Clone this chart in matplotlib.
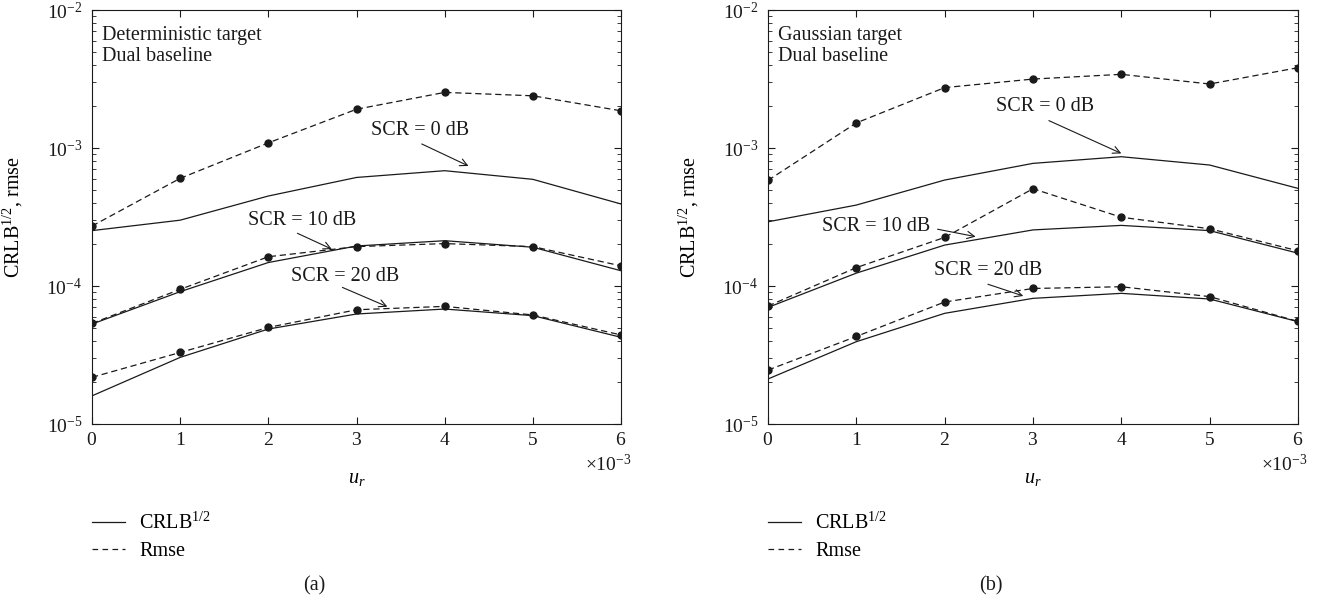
import matplotlib
matplotlib.use("Agg")
import matplotlib.pyplot as plt
from matplotlib.ticker import ScalarFormatter, LogLocator, NullFormatter
from matplotlib.lines import Line2D

plt.rcParams['font.family'] = ['Liberation Serif', 'DejaVu Serif']
plt.rcParams['mathtext.fontset'] = 'custom'
plt.rcParams['mathtext.rm'] = 'Liberation Serif'
plt.rcParams['mathtext.it'] = 'Liberation Serif:italic'

# u_r values
ur = [0, 1e-3, 2e-3, 3e-3, 4e-3, 5e-3, 6e-3]

# (a) deterministic target
det_crlb_0 = [2.52e-4, 3.0e-4, 4.49e-4, 6.12e-4, 6.85e-4, 5.93e-4, 3.93e-4]
det_rmse_0 = [2.72e-4, 6.03e-4, 1.09e-3, 1.91e-3, 2.53e-3, 2.39e-3, 1.86e-3]
det_crlb_10 = [5.3e-5, 9.1e-5, 1.48e-4, 1.95e-4, 2.13e-4, 1.91e-4, 1.29e-4]
det_rmse_10 = [5.36e-5, 9.46e-5, 1.63e-4, 1.93e-4, 2.03e-4, 1.93e-4, 1.40e-4]
det_crlb_20 = [1.60e-5, 3.04e-5, 4.88e-5, 6.27e-5, 6.81e-5, 6.1e-5, 4.25e-5]
det_rmse_20 = [2.18e-5, 3.30e-5, 5.01e-5, 6.73e-5, 7.12e-5, 6.17e-5, 4.42e-5]

# (b) gaussian target
gau_crlb_0 = [2.92e-4, 3.86e-4, 5.86e-4, 7.74e-4, 8.65e-4, 7.53e-4, 5.10e-4]
gau_rmse_0 = [5.83e-4, 1.52e-3, 2.74e-3, 3.16e-3, 3.42e-3, 2.91e-3, 3.82e-3]
gau_crlb_10 = [7.0e-5, 1.24e-4, 1.98e-4, 2.55e-4, 2.75e-4, 2.52e-4, 1.73e-4]
gau_rmse_10 = [7.16e-5, 1.36e-4, 2.25e-4, 5.07e-4, 3.15e-4, 2.60e-4, 1.80e-4]
gau_crlb_20 = [2.12e-5, 3.95e-5, 6.34e-5, 8.14e-5, 8.85e-5, 8.05e-5, 5.52e-5]
gau_rmse_20 = [2.46e-5, 4.31e-5, 7.66e-5, 9.6e-5, 9.88e-5, 8.38e-5, 5.54e-5]

scr_labels = ['SCR = 0 dB', 'SCR = 10 dB', 'SCR = 20 dB']

# annotation placements: (text pos, arrow start, arrow end)
det_notes = [
    ((3.72e-3, 1.35e-3), (3.74e-3, 1.07e-3), (4.27e-3, 7.41e-4)),
    ((2.38e-3, 2.96e-4), (2.33e-3, 2.41e-4), (2.72e-3, 1.85e-4)),
    ((2.87e-3, 1.18e-4), (2.84e-3, 9.77e-5), (3.35e-3, 7.08e-5)),
]
gau_notes = [
    ((3.14e-3, 2.01e-3), (3.18e-3, 1.58e-3), (4.0e-3, 9.14e-4)),
    ((1.22e-3, 2.72e-4), (1.92e-3, 2.58e-4), (2.35e-3, 2.28e-4)),
    ((2.49e-3, 1.29e-4), (2.49e-3, 1.03e-4), (2.89e-3, 8.47e-5)),
]

ink = '#1a1a1a'
fs_tick = 14
fs_text = 14.5

fig = plt.figure(figsize=(13.18, 6), dpi=100)
ax_a = fig.add_axes([0.0698, 0.2933, 0.4014, 0.69])
ax_b = fig.add_axes([0.5827, 0.2933, 0.4021, 0.69])


def draw_panel(ax, crlbs, rmses, notes, title, tag):
    for c in crlbs:
        ax.plot(ur, c, '-', color=ink, lw=0.9)
    for r in rmses:
        ax.plot(ur, r, '--', color=ink, lw=0.9, dashes=(5, 3),
                marker='o', ms=5, mfc=ink, mec=ink)
    for lab, (txt, a0, a1) in zip(scr_labels, notes):
        ax.text(txt[0], txt[1], lab, ha='center', va='center',
                fontsize=fs_text, color=ink)
        ax.annotate('', xy=a1, xytext=a0,
                    arrowprops=dict(arrowstyle='->', color=ink, lw=0.8,
                                    shrinkA=0, shrinkB=0, mutation_scale=13))
    ax.set_yscale('log')
    ax.set_ylim(1e-5, 1e-2)
    ax.set_xlim(0, 6e-3)
    ax.set_xticks(ur)
    fmt = ScalarFormatter(useMathText=True)
    fmt.set_powerlimits((-2, 2))
    ax.xaxis.set_major_formatter(fmt)
    off = ax.xaxis.get_offset_text()
    off.set_fontsize(fs_tick)
    off.set_x(0.975)
    off.set_horizontalalignment('center')
    ax.yaxis.set_minor_locator(LogLocator(base=10, subs=range(2, 10)))
    ax.yaxis.set_minor_formatter(NullFormatter())
    ax.tick_params(which='both', direction='in', top=True, right=True,
                   labelsize=fs_tick, colors=ink)
    ax.tick_params(which='major', length=5)
    ax.tick_params(which='minor', length=3)
    ax.tick_params(axis='x', pad=6)
    ax.tick_params(axis='y', pad=7)
    for s in ax.spines.values():
        s.set_linewidth(0.8)
        s.set_color(ink)
    ax.set_xlabel(r'$u_r$', fontsize=fs_text, labelpad=14)
    ax.set_ylabel(r'CRLB$^{1/2}$, rmse', fontsize=fs_text)
    ax.yaxis.set_label_coords(-0.127, 0.5)
    ax.text(0.019, 0.962, title, transform=ax.transAxes, ha='left', va='top',
            fontsize=fs_text, linespacing=1.15, color=ink)
    # legend below the axes
    h = [Line2D([], [], color=ink, lw=0.9, ls='-'),
         Line2D([], [], color=ink, lw=0.9, ls='--', dashes=(4.5, 3.5))]
    ax.legend(h, [r'CRLB$^{1/2}$', 'Rmse'], loc='upper left',
              bbox_to_anchor=(0.0, -0.215), frameon=False, fontsize=fs_text,
              handlelength=1.65, handletextpad=0.7, labelspacing=0.38,
              borderpad=0, borderaxespad=0)
    ax.text(0.42, -0.39, tag, transform=ax.transAxes, ha='center',
            va='center', fontsize=fs_text, color=ink)


draw_panel(ax_a, [det_crlb_0, det_crlb_10, det_crlb_20],
           [det_rmse_0, det_rmse_10, det_rmse_20], det_notes,
           'Deterministic target\nDual baseline', '(a)')
draw_panel(ax_b, [gau_crlb_0, gau_crlb_10, gau_crlb_20],
           [gau_rmse_0, gau_rmse_10, gau_rmse_20], gau_notes,
           'Gaussian target\nDual baseline', '(b)')

fig.savefig('out.png', dpi=100)
